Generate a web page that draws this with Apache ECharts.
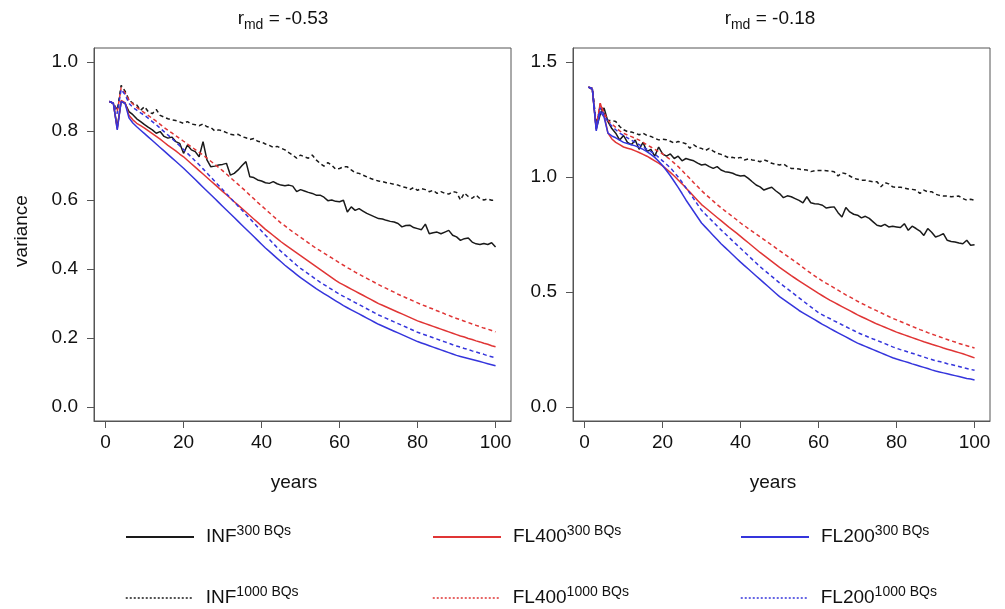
<!DOCTYPE html>
<html>
<head>
<meta charset="utf-8">
<script src="https://cdn.jsdelivr.net/npm/echarts@6/dist/echarts.min.js"></script>
<style>
  html, body { margin: 0; padding: 0; background: #fff; }
  #chart { width: 1005px; height: 609px; }
</style>
</head>
<body>
<div id="chart"></div>
<script>
// years 1..100
const years = Array.from({ length: 100 }, (_, i) => i + 1);

const xTicks = [0, 20, 40, 60, 80, 100];
const leftYTicks = [0, 0.2, 0.4, 0.6, 0.8, 1.0];
const rightYTicks = [0, 0.5, 1.0, 1.5];

// ---- left panel (r_md = -0.53)
const leftInf300 = [
  .885,.880,.810,.885,.880,.856,.847,.835,.827,.818,
  .810,.803,.793,.798,.784,.779,.782,.769,.764,.735,
  .759,.745,.740,.725,.769,.716,.696,.698,.701,.703,
  .706,.672,.677,.687,.700,.711,.667,.665,.658,.655,
  .650,.648,.653,.647,.643,.641,.643,.640,.624,.630,
  .626,.622,.619,.614,.614,.608,.598,.600,.596,.595,
  .599,.565,.580,.570,.575,.568,.561,.556,.551,.546,
  .545,.541,.538,.536,.532,.522,.526,.527,.520,.517,
  .514,.530,.502,.505,.507,.502,.507,.512,.498,.493,
  .483,.488,.490,.478,.473,.471,.474,.471,.476,.464
];
const leftInf1000 = [
  .885,.880,.860,.932,.915,.890,.880,.875,.860,.870,
  .855,.850,.862,.845,.840,.835,.832,.830,.826,.822,
  .827,.820,.818,.815,.820,.812,.810,.800,.803,.800,
  .795,.790,.788,.790,.783,.780,.775,.778,.770,.768,
  .762,.758,.752,.755,.750,.745,.737,.730,.721,.730,
  .725,.721,.730,.716,.706,.698,.708,.701,.689,.691,
  .696,.696,.687,.679,.677,.672,.667,.662,.658,.655,
  .653,.650,.648,.645,.643,.638,.636,.630,.636,.628,
  .633,.630,.624,.628,.619,.624,.619,.617,.624,.622,
  .600,.620,.610,.605,.614,.604,.600,.603,.599,.600
];
const leftFl400_300 = [
  .885,.880,.805,.888,.882,.845,.832,.822,.815,.808,
  .800,.792,.784,.776,.767,.758,.750,.742,.733,.725,
  .715,.705,.695,.685,.675,.665,.655,.645,.635,.625,
  .615,.605,.595,.585,.575,.565,.555,.545,.535,.525,
  .515,.506,.497,.488,.479,.471,.463,.455,.447,.439,
  .431,.423,.415,.407,.399,.391,.383,.375,.367,.360,
  .354,.348,.342,.336,.330,.324,.318,.312,.306,.300,
  .295,.290,.285,.280,.275,.270,.265,.260,.255,.250,
  .246,.242,.238,.234,.230,.226,.222,.218,.214,.210,
  .206,.203,.199,.196,.192,.189,.185,.182,.178,.175
];
const leftFl400_1000 = [
  .885,.880,.855,.925,.910,.890,.878,.868,.860,.852,
  .844,.836,.828,.819,.810,.802,.794,.786,.778,.770,
  .762,.754,.746,.738,.730,.721,.712,.703,.694,.685,
  .675,.665,.655,.645,.635,.625,.614,.604,.593,.583,
  .573,.563,.553,.543,.533,.525,.516,.508,.500,.492,
  .484,.476,.468,.460,.453,.446,.439,.432,.425,.418,
  .411,.404,.398,.391,.385,.379,.373,.367,.361,.355,
  .349,.344,.338,.333,.327,.322,.317,.312,.307,.302,
  .297,.293,.288,.284,.279,.275,.270,.266,.261,.257,
  .253,.249,.245,.241,.237,.233,.229,.226,.222,.218
];
const leftFl200_300 = [
  .885,.880,.803,.885,.880,.838,.823,.812,.802,.792,
  .782,.772,.762,.752,.742,.732,.722,.712,.702,.692,
  .681,.670,.659,.648,.637,.626,.615,.604,.593,.582,
  .571,.560,.549,.538,.527,.516,.505,.494,.483,.472,
  .461,.451,.441,.431,.421,.411,.402,.393,.384,.375,
  .367,.359,.351,.343,.336,.329,.322,.315,.308,.301,
  .294,.288,.282,.276,.270,.264,.258,.252,.246,.240,
  .235,.230,.225,.220,.215,.210,.205,.200,.195,.190,
  .186,.182,.178,.174,.170,.166,.162,.158,.154,.150,
  .147,.144,.141,.138,.135,.132,.129,.126,.123,.120
];
const leftFl200_1000 = [
  .885,.880,.850,.920,.905,.880,.868,.860,.852,.845,
  .836,.827,.818,.808,.798,.788,.778,.768,.757,.746,
  .735,.724,.713,.702,.690,.678,.666,.654,.642,.630,
  .618,.606,.594,.582,.570,.558,.546,.534,.522,.510,
  .498,.486,.474,.462,.451,.441,.431,.421,.411,.402,
  .394,.386,.378,.370,.362,.355,.348,.341,.334,.327,
  .321,.315,.309,.303,.297,.291,.285,.279,.273,.267,
  .262,.257,.252,.247,.242,.237,.232,.227,.222,.217,
  .213,.209,.205,.201,.197,.193,.189,.185,.181,.177,
  .174,.170,.167,.163,.160,.156,.153,.149,.146,.143
];

// ---- right panel (r_md = -0.18)
const rightInf300 = [
  1.390,1.380,1.210,1.270,1.300,1.240,1.210,1.190,1.160,1.180,
  1.150,1.140,1.160,1.120,1.150,1.110,1.120,1.090,1.130,1.100,
  1.090,1.100,1.080,1.090,1.070,1.080,1.075,1.070,1.060,1.052,
  1.055,1.045,1.037,1.045,1.030,1.023,1.020,1.016,1.008,1.004,
  1.006,0.994,0.979,0.965,0.957,0.943,0.950,0.955,0.940,0.928,
  0.910,0.918,0.914,0.906,0.898,0.887,0.914,0.888,0.884,0.882,
  0.877,0.865,0.868,0.870,0.845,0.826,0.867,0.848,0.838,0.834,
  0.822,0.829,0.820,0.805,0.790,0.786,0.794,0.783,0.786,0.783,
  0.780,0.797,0.768,0.786,0.776,0.765,0.746,0.776,0.760,0.739,
  0.745,0.754,0.725,0.720,0.717,0.713,0.710,0.725,0.703,0.705
];
const rightInf1000 = [
  1.390,1.385,1.230,1.300,1.280,1.245,1.245,1.241,1.219,1.205,
  1.197,1.195,1.190,1.183,1.190,1.180,1.176,1.168,1.161,1.164,
  1.162,1.155,1.147,1.154,1.150,1.144,1.125,1.139,1.128,1.124,
  1.115,1.124,1.112,1.103,1.098,1.091,1.083,1.085,1.081,1.085,
  1.074,1.078,1.074,1.071,1.066,1.074,1.068,1.059,1.055,1.052,
  1.056,1.045,1.037,1.037,1.034,1.031,1.030,1.023,1.027,1.028,
  1.028,1.027,1.025,1.023,1.004,1.018,1.014,1.004,0.994,0.990,
  0.986,0.986,0.982,0.979,0.979,0.957,0.975,0.970,0.957,0.955,
  0.955,0.952,0.948,0.946,0.943,0.928,0.943,0.935,0.936,0.925,
  0.920,0.917,0.917,0.914,0.915,0.917,0.906,0.899,0.903,0.899
];
const rightFl400_300 = [
  1.390,1.380,1.205,1.320,1.270,1.190,1.165,1.150,1.140,1.130,
  1.125,1.120,1.113,1.106,1.098,1.090,1.080,1.070,1.060,1.048,
  1.034,1.020,1.004,0.987,0.970,0.952,0.934,0.916,0.898,0.880,
  0.866,0.852,0.838,0.824,0.810,0.796,0.782,0.769,0.756,0.742,
  0.728,0.714,0.700,0.686,0.672,0.659,0.646,0.633,0.620,0.607,
  0.595,0.583,0.571,0.560,0.549,0.538,0.527,0.516,0.505,0.494,
  0.484,0.474,0.464,0.455,0.446,0.437,0.428,0.419,0.410,0.401,
  0.393,0.385,0.377,0.369,0.361,0.354,0.347,0.340,0.333,0.326,
  0.320,0.314,0.308,0.302,0.296,0.290,0.284,0.279,0.273,0.268,
  0.263,0.257,0.252,0.247,0.242,0.237,0.232,0.226,0.220,0.214
];
const rightFl400_1000 = [
  1.390,1.385,1.220,1.320,1.280,1.245,1.230,1.215,1.200,1.190,
  1.182,1.175,1.168,1.160,1.150,1.140,1.130,1.120,1.110,1.100,
  1.088,1.075,1.060,1.045,1.028,1.010,0.993,0.975,0.958,0.940,
  0.925,0.910,0.895,0.880,0.866,0.853,0.840,0.827,0.814,0.800,
  0.788,0.776,0.764,0.752,0.740,0.728,0.716,0.704,0.692,0.680,
  0.668,0.656,0.644,0.632,0.620,0.607,0.594,0.582,0.570,0.559,
  0.548,0.538,0.528,0.518,0.508,0.498,0.488,0.479,0.470,0.460,
  0.451,0.443,0.434,0.426,0.418,0.410,0.402,0.394,0.386,0.379,
  0.372,0.365,0.358,0.351,0.344,0.337,0.331,0.324,0.318,0.312,
  0.306,0.300,0.294,0.288,0.283,0.277,0.272,0.267,0.262,0.257
];
const rightFl200_300 = [
  1.390,1.380,1.200,1.285,1.260,1.190,1.178,1.170,1.160,1.150,
  1.145,1.140,1.135,1.128,1.120,1.110,1.098,1.085,1.068,1.050,
  1.028,1.005,0.980,0.955,0.928,0.900,0.875,0.850,0.825,0.800,
  0.782,0.764,0.746,0.728,0.710,0.694,0.678,0.662,0.646,0.630,
  0.615,0.600,0.585,0.570,0.555,0.540,0.525,0.510,0.495,0.480,
  0.468,0.456,0.444,0.432,0.420,0.410,0.400,0.390,0.380,0.370,
  0.360,0.351,0.341,0.332,0.323,0.314,0.305,0.296,0.287,0.278,
  0.271,0.264,0.257,0.250,0.243,0.236,0.229,0.222,0.215,0.209,
  0.204,0.199,0.194,0.188,0.183,0.178,0.173,0.168,0.162,0.157,
  0.153,0.149,0.145,0.141,0.137,0.133,0.129,0.125,0.122,0.118
];
const rightFl200_1000 = [
  1.390,1.385,1.210,1.300,1.270,1.240,1.220,1.205,1.190,1.180,
  1.170,1.160,1.150,1.140,1.130,1.120,1.110,1.100,1.085,1.070,
  1.055,1.040,1.020,1.000,0.977,0.953,0.930,0.905,0.880,0.855,
  0.838,0.821,0.804,0.787,0.770,0.754,0.738,0.722,0.706,0.690,
  0.674,0.658,0.642,0.626,0.610,0.596,0.582,0.568,0.554,0.540,
  0.527,0.514,0.501,0.488,0.475,0.462,0.449,0.436,0.423,0.410,
  0.401,0.392,0.384,0.375,0.367,0.358,0.350,0.341,0.333,0.324,
  0.317,0.310,0.303,0.296,0.290,0.283,0.276,0.269,0.262,0.256,
  0.250,0.245,0.239,0.234,0.229,0.223,0.218,0.212,0.207,0.202,
  0.198,0.194,0.189,0.185,0.181,0.177,0.172,0.168,0.164,0.160
];

const FONT = "'Liberation Sans', Arial, sans-serif";
const BLACK = '#1a1a1a';
const RED = '#e03535';
const BLUE = '#3535dc';

const chart = echarts.init(document.getElementById('chart'));

function pairs (arr) {
  return years.map((t, i) => [t, arr[i]]);
}

function line (name, arr, color, dashed, idx) {
  return {
    name: name,
    type: 'line',
    xAxisIndex: idx,
    yAxisIndex: idx,
    data: pairs(arr),
    symbol: 'none',
    silent: true,
    lineStyle: { color: color, width: 1.5, type: dashed ? [4, 3] : 'solid' },
    itemStyle: { color: color }
  };
}

function xAxis (idx) {
  return {
    type: 'value',
    gridIndex: idx,
    min: -2.96,
    max: 103.96,
    axisLine: { show: true, onZero: false, lineStyle: { color: '#555' } },
    axisTick: { show: true, customValues: xTicks, length: 7, lineStyle: { color: '#555' } },
    axisLabel: { customValues: xTicks, fontFamily: FONT, fontSize: 19, color: '#111', margin: 12 },
    splitLine: { show: false }
  };
}

function yAxis (idx, min, max, ticks) {
  return {
    type: 'value',
    gridIndex: idx,
    min: min,
    max: max,
    axisLine: { show: true, onZero: false, lineStyle: { color: '#555' } },
    axisTick: { show: true, customValues: ticks, length: 7, lineStyle: { color: '#555' } },
    axisLabel: {
      customValues: ticks,
      fontFamily: FONT,
      fontSize: 19,
      color: '#111',
      margin: 16,
      formatter: v => v.toFixed(1)
    },
    splitLine: { show: false }
  };
}

const legendRich = {
  b: { fontFamily: FONT, fontSize: 19, color: '#111', lineHeight: 26, verticalAlign: 'middle', padding: [0, 0, 0, 7] },
  s: { fontFamily: FONT, fontSize: 14, color: '#111', lineHeight: 14, verticalAlign: 'top' }
};

function legend (name, left, top, dashed) {
  const l = {
    data: [name],
    left: left,
    top: top,
    itemWidth: 68,
    itemHeight: 14,
    itemGap: 0,
    padding: 0,
    selectedMode: false,
    // hide the marker dot, keep only the line
    itemStyle: { opacity: 0 },
    formatter: n => {
      const p = n.split(' ');
      return '{b|' + p[0] + '}{s|' + p[1] + ' BQs}';
    },
    textStyle: { rich: legendRich }
  };
  if (dashed) {
    l.lineStyle = { type: [2, 2], width: 1.5 };
  } else {
    l.lineStyle = { width: 2 };
  }
  return l;
}

const titleRich = {
  r: { fontFamily: FONT, fontSize: 19, fill: '#111', lineHeight: 26, verticalAlign: 'middle' },
  s: { fontFamily: FONT, fontSize: 14, fill: '#111', lineHeight: 14, verticalAlign: 'bottom' }
};

const option = {
  backgroundColor: '#fff',
  animation: false,
  grid: [
    { left: 94, top: 48, width: 417, height: 373, show: true, borderColor: '#555', borderWidth: 1 },
    { left: 573, top: 48, width: 417, height: 373, show: true, borderColor: '#555', borderWidth: 1 }
  ],
  xAxis: [xAxis(0), xAxis(1)],
  yAxis: [yAxis(0, -0.04, 1.04, leftYTicks), yAxis(1, -0.06, 1.56, rightYTicks)],
  legend: [
    legend('INF 300', 125, 524, false),
    legend('FL400 300', 432, 524, false),
    legend('FL200 300', 740, 524, false),
    legend('INF 1000', 125, 585, true),
    legend('FL400 1000', 432, 585, true),
    legend('FL200 1000', 740, 585, true)
  ],
  graphic: [
    { type: 'text', x: 283, y: 19, style: { text: '{r|r}{s|md}{r| = -0.53}', rich: titleRich, align: 'center', verticalAlign: 'middle' } },
    { type: 'text', x: 770, y: 19, style: { text: '{r|r}{s|md}{r| = -0.18}', rich: titleRich, align: 'center', verticalAlign: 'middle' } },
    { type: 'text', x: 294, y: 483, style: { text: 'years', font: '19px ' + FONT, fill: '#111', align: 'center', verticalAlign: 'middle' } },
    { type: 'text', x: 773, y: 483, style: { text: 'years', font: '19px ' + FONT, fill: '#111', align: 'center', verticalAlign: 'middle' } },
    { type: 'text', x: 22, y: 231, rotation: Math.PI / 2, style: { text: 'variance', font: '19px ' + FONT, fill: '#111', align: 'center', verticalAlign: 'middle' } }
  ],
  series: [
    line('INF 300', leftInf300, BLACK, false, 0),
    line('INF 1000', leftInf1000, BLACK, true, 0),
    line('FL400 300', leftFl400_300, RED, false, 0),
    line('FL400 1000', leftFl400_1000, RED, true, 0),
    line('FL200 300', leftFl200_300, BLUE, false, 0),
    line('FL200 1000', leftFl200_1000, BLUE, true, 0),
    line('INF 300', rightInf300, BLACK, false, 1),
    line('INF 1000', rightInf1000, BLACK, true, 1),
    line('FL400 300', rightFl400_300, RED, false, 1),
    line('FL400 1000', rightFl400_1000, RED, true, 1),
    line('FL200 300', rightFl200_300, BLUE, false, 1),
    line('FL200 1000', rightFl200_1000, BLUE, true, 1)
  ]
};

chart.setOption(option);
</script>
</body>
</html>
